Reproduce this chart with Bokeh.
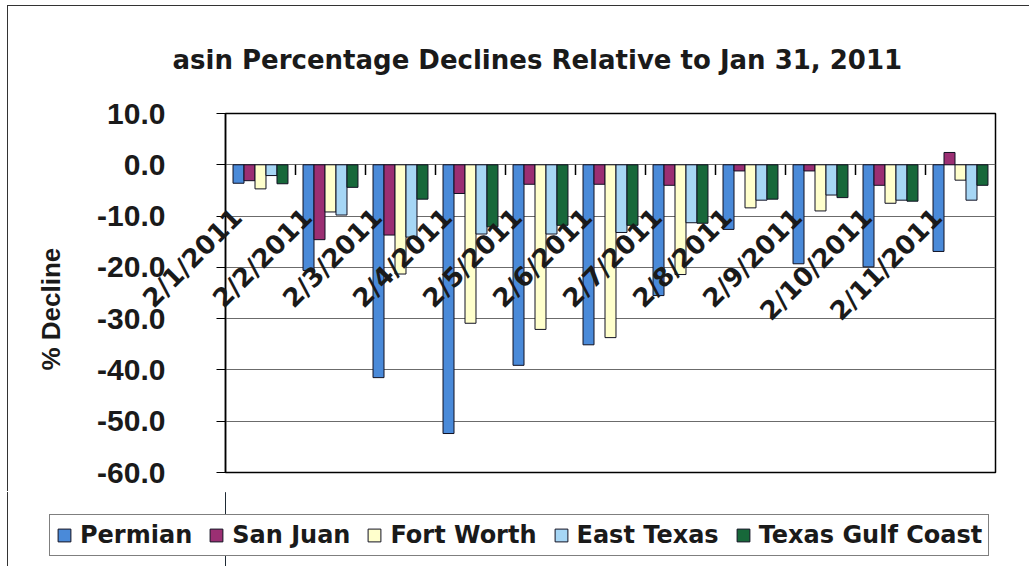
import math
from bokeh.plotting import figure
from bokeh.layouts import column
from bokeh.models import (Range1d, FixedTicker, NumeralTickFormatter,
                          Legend, LegendItem, Label, Title, ColumnDataSource)
from bokeh.transform import dodge
from bokeh.embed import file_html
from bokeh.resources import INLINE

# ---------------- data ----------------
dates = ["2/1/2011", "2/2/2011", "2/3/2011", "2/4/2011", "2/5/2011", "2/6/2011",
         "2/7/2011", "2/8/2011", "2/9/2011", "2/10/2011", "2/11/2011"]
series_names = ["Permian", "San Juan", "Fort Worth", "East Texas", "Texas Gulf Coast"]
permian = [-3.6, -20.6, -41.5, -52.4, -39.1, -35.1, -25.5, -12.6, -19.3, -19.9, -16.9]
san_juan = [-3.1, -14.6, -13.7, -5.6, -3.8, -3.8, -4.0, -1.2, -1.2, -4.0, 2.4]
fort_worth = [-4.7, -9.2, -21.3, -30.9, -32.1, -33.7, -21.4, -8.4, -9.0, -7.5, -3.0]
east_texas = [-2.1, -9.8, -14.1, -13.5, -13.5, -13.2, -11.3, -6.9, -5.9, -6.9, -6.9]
gulf_coast = [-3.7, -4.4, -6.7, -12.1, -11.8, -11.8, -11.4, -6.7, -6.4, -7.1, -4.0]
y_ticks = [-60, -50, -40, -30, -20, -10, 0, 10]
title_text = "asin Percentage Declines Relative to Jan 31, 2011"
y_label = "% Decline"

series_values = [permian, san_juan, fort_worth, east_texas, gulf_coast]
colors = ["#4A8AD9", "#9B2F73", "#FFFFCC", "#A6D6F5", "#17683A"]
TEXT = "#1a1a1a"
EDGE = "#111122"

n = len(dates)
centers = [i + 0.5 for i in range(n)]   # category centres on a 0..n axis

# ---------------- main chart ----------------
p = figure(x_range=Range1d(0, n), y_range=Range1d(-60, 10), x_axis_location=None,
           frame_width=770, frame_height=359,
           min_border_left=217, min_border_right=34, min_border_top=107, min_border_bottom=20,
           output_backend="svg", toolbar_location=None)
p.styles = {"box-shadow": "-1px -1px 0 0 #333"}
p.background_fill_color = "white"
p.border_fill_color = "white"
p.outline_line_color = "black"
p.outline_line_width = 1.5

p.xgrid.visible = False
p.ygrid.grid_line_color = "#6b6b6b"
p.ygrid.grid_line_width = 1
p.ygrid.ticker = FixedTicker(ticks=y_ticks)

ya = p.yaxis[0]
ya.ticker = FixedTicker(ticks=y_ticks)
ya.formatter = NumeralTickFormatter(format="0.0")
ya.axis_line_color = "black"
ya.axis_line_width = 1.5
ya.major_tick_line_color = "black"
ya.major_tick_out = 9
ya.major_tick_in = 0
ya.minor_tick_line_color = None
ya.major_label_text_font = "Liberation Sans"
ya.major_label_text_font_style = "bold"
ya.major_label_text_font_size = "30px"
ya.major_label_text_color = TEXT
ya.major_label_standoff = 51

bar_w = 0.157
for k, (name, vals, col) in enumerate(zip(series_names, series_values, colors)):
    src = ColumnDataSource(dict(pos=centers, val=vals))
    p.vbar(x=dodge("pos", (k - 2) * bar_w), top="val", bottom=0,
           width=bar_w, fill_color=col, line_color=EDGE, line_width=1, source=src)

# tick marks between categories on the zero line
nb = n - 1
bsrc = ColumnDataSource(dict(pos=centers[:-1], y0=[0] * nb, y1=[-2] * nb))
p.segment(x0=dodge("pos", 0.5), y0="y0", x1=dodge("pos", 0.5), y1="y1",
          line_color="black", line_width=1.5, source=bsrc)

# title (side panel, not clipped)
p.add_layout(Label(x=-53, y=54, x_units="screen", y_units="screen", text=title_text,
                   text_font="DejaVu Sans", text_font_style="bold", text_font_size="26px",
                   text_color=TEXT, text_align="left", text_baseline="alphabetic"), "above")

# y label as a side title
p.add_layout(Title(text=y_label, align="left", offset=102, vertical_align="top", standoff=54,
                   text_font="Liberation Sans", text_font_style="bold", text_font_size="26px",
                   text_color=TEXT), "left")

# rotated category labels hanging from the zero line (kept in a side panel so
# that the first one is not clipped by the plot frame; positioned in data units)
for c, d in zip(centers, dates):
    p.add_layout(Label(x=c, y=0, x_units="data", y_units="data", text=d,
                       angle=math.pi / 4, text_align="right", text_baseline="alphabetic",
                       x_offset=-23, y_offset=-48,
                       text_font="DejaVu Sans", text_font_style="bold", text_font_size="26px",
                       text_color=TEXT), "right")

# ---------------- legend strip below the chart ----------------
q = figure(x_range=Range1d(0, 1), y_range=Range1d(0, 1),
           x_axis_location=None, y_axis_location=None,
           frame_width=1021, frame_height=74,
           min_border_left=0, min_border_right=0, min_border_top=0, min_border_bottom=0,
           output_backend="svg", toolbar_location=None)
q.styles = {"box-shadow": "-1px 0 0 0 #333"}
q.grid.visible = False
q.outline_line_color = None
q.background_fill_color = "white"
q.border_fill_color = "white"
swatches = []
for name, col in zip(series_names, colors):
    # swatch renderer: one point kept outside the strip's visible range
    swatches.append(q.vbar(x=[-1], top=[1], width=0.1, fill_color=col,
                           line_color=EDGE, line_width=1))

legend = Legend(items=[LegendItem(label=nm, renderers=[r]) for nm, r in zip(series_names, swatches)],
                orientation="horizontal", location=(41, 10),
                label_text_font="DejaVu Sans", label_text_font_style="bold",
                label_text_font_size="24px", label_text_color=TEXT,
                glyph_width=16, glyph_height=16, label_standoff=8, spacing=16,
                padding=6, margin=0, border_line_color="black", border_line_width=1,
                background_fill_alpha=1)
q.add_layout(legend)

page = column(p, q, spacing=0)
page.styles = {"position": "relative", "left": "8px", "top": "6px"}

open("out.html", "w").write(file_html(page, INLINE))
